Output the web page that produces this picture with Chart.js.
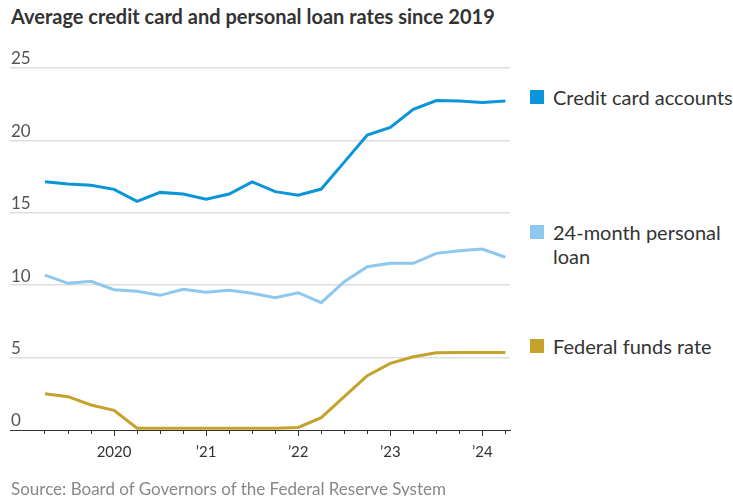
<!DOCTYPE html>
<html>
<head>
<meta charset="utf-8">
<script src="https://cdn.jsdelivr.net/npm/chart.js@4"></script>
<style>
    body { margin: 0; width: 733px; height: 496px; background: #fff; position: relative; overflow: hidden; font-family: Lato, "Noto Sans", sans-serif; color: #333; }
    #title { position: absolute; left: 11px; top: 4px; font-size: 20px; font-weight: bold; color: #333; white-space: nowrap; }
    #chartBox { position: absolute; left: 0; top: 40px; width: 520px; height: 440px; }
    .legend { position: absolute; left: 530px; font-size: 20px; line-height: 24px; color: #333; }
    .legend .swatch { position: absolute; left: 0; top: 5px; width: 14px; height: 14px; }
    .legend .text { position: absolute; left: 23px; top: 0; width: 185px; }
    #source { position: absolute; left: 11px; top: 478px; font-size: 17px; color: #888; white-space: nowrap; }
</style>
</head>
<body>
<div id="title">Average credit card and personal loan rates since 2019</div>
<div id="chartBox"><canvas id="rateChart"></canvas></div>
<div id="legendBox"></div>
<div id="source">Source: Board of Governors of the Federal Reserve System</div>

<script>
// Quarterly observations, 2019 Q2 through 2024 Q2
const quarters = [2019.25, 2019.5, 2019.75, 2020, 2020.25, 2020.5, 2020.75, 2021, 2021.25, 2021.5, 2021.75,
    2022, 2022.25, 2022.5, 2022.75, 2023, 2023.25, 2023.5, 2023.75, 2024, 2024.25];
const creditCard = [17.15, 16.99, 16.9, 16.62, 15.79, 16.41, 16.3, 15.93, 16.3, 17.13,
    16.46, 16.21, 16.64, 18.5, 20.37, 20.9, 22.15, 22.75, 22.72, 22.61, 22.72];
const personalLoan = [10.7, 10.13, 10.27, 9.69, 9.58, 9.3, 9.72, 9.51, 9.65, 9.44,
    9.14, 9.48, 8.79, 10.24, 11.28, 11.51, 11.51, 12.2, 12.38, 12.5, 11.93];
const fedFunds = [2.51, 2.3, 1.73, 1.36, 0.12, 0.12, 0.12, 0.12, 0.12, 0.12,
    0.12, 0.18, 0.85, 2.3, 3.75, 4.6, 5.06, 5.33, 5.36, 5.36, 5.36];

const yTicks = [0, 5, 10, 15, 20, 25];
const xTickLabels = { 2020: '2020', 2021: '\u201921', 2022: '\u201922', 2023: '\u201923', 2024: '\u201924' };

const seriesNames = ['Credit card accounts', '24-month personal loan', 'Federal funds rate'];
const seriesColors = ['#0a95d9', '#8ec8ee', '#c4a22c'];
const legendTops = [85, 220, 334];

function toPoints(values) {
    return values.map((v, i) => ({ x: quarters[i], y: v }));
}

// Legend labels sit next to the end of each line
const legendBox = document.getElementById('legendBox');
seriesNames.forEach((name, i) => {
    const item = document.createElement('div');
    item.className = 'legend';
    item.style.top = legendTops[i] + 'px';
    item.innerHTML = `<div class="swatch" style="background:${seriesColors[i]}"></div><div class="text">${name}</div>`;
    legendBox.appendChild(item);
});

const ctx = document.getElementById('rateChart').getContext('2d');
new Chart(ctx, {
    type: 'line',
    data: {
        datasets: [
            { label: seriesNames[0], data: toPoints(creditCard), borderColor: seriesColors[0], borderWidth: 3, pointRadius: 0, tension: 0 },
            { label: seriesNames[1], data: toPoints(personalLoan), borderColor: seriesColors[1], borderWidth: 3, pointRadius: 0, tension: 0 },
            { label: seriesNames[2], data: toPoints(fedFunds), borderColor: seriesColors[2], borderWidth: 3, pointRadius: 0, tension: 0 }
        ]
    },
    options: {
        responsive: true,
        maintainAspectRatio: false,
        animation: false,
        layout: { padding: { left: 10, right: 10, top: 28, bottom: 0 } },
        plugins: {
            legend: { display: false },
            tooltip: { enabled: false }
        },
        scales: {
            x: {
                type: 'linear',
                min: 2018.87,
                max: 2024.3,
                afterFit: (scale) => { scale.height = 50; },
                afterBuildTicks: (scale) => { scale.ticks = quarters.map(q => ({ value: q })); },
                border: { display: true, color: '#333', width: 1 },
                grid: {
                    drawOnChartArea: false,
                    tickLength: 6,
                    tickWidth: 1,
                    tickColor: '#333',
                    // short marks for quarters, longer ones for years
                    tickBorderDash: (c) => Number.isInteger(c.tick && c.tick.value) ? [] : [3, 20]
                },
                ticks: {
                    autoSkip: false,
                    maxRotation: 0,
                    padding: 7,
                    color: '#333',
                    font: { family: 'Lato', size: 15 },
                    callback: (v) => xTickLabels[v] || ''
                }
            },
            y: {
                min: 0,
                max: 25,
                afterFit: (scale) => { scale.width = 0; },
                afterBuildTicks: (scale) => { scale.ticks = yTicks.map(v => ({ value: v })); },
                border: { display: false },
                grid: {
                    drawTicks: false,
                    lineWidth: 1.5,
                    color: (c) => c.tick && c.tick.value === 0 ? 'rgba(0,0,0,0)' : '#dedede'
                },
                ticks: {
                    mirror: true,
                    padding: 1,
                    labelOffset: -9,
                    color: '#555',
                    font: { family: 'Lato', size: 17 }
                }
            }
        }
    }
});
</script>
</body>
</html>
